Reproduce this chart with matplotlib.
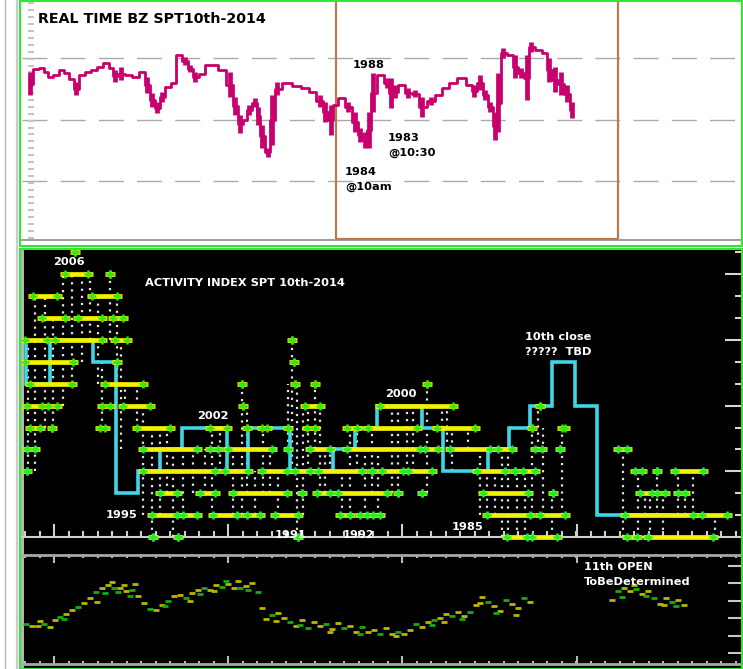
import numpy as np
import matplotlib
matplotlib.use('Agg')
import matplotlib.pyplot as plt
from matplotlib.patches import Rectangle

W, H = 743, 669

# ---- top panel: real time BZ (time in screen slots, price in ticks above panel floor)
bz_t = [30, 36, 42, 46, 50, 56, 61, 66, 71, 76, 82, 88, 94, 100, 106, 111, 115, 121,
        128, 136, 142, 147, 152, 157, 162, 168, 173, 178, 185, 190, 195, 202, 208, 214,
        221, 230, 235, 240, 245, 249, 255, 258, 262, 268, 272, 277, 286, 297, 305, 312,
        320, 325, 331, 335, 341, 348, 355, 360, 365, 369, 373, 380, 387, 391, 395, 401,
        408, 415, 422, 431, 438, 445, 452, 462, 470, 474, 480, 485, 490, 495, 498, 503,
        510, 515, 521, 527, 531, 538, 545, 549, 555, 561, 567, 572]
bz_hi = [168, 171, 172, 168, 163, 165, 170, 167, 161, 158, 165, 168, 170, 173, 177, 172, 170, 173,
         165, 163, 168, 163, 147, 138, 148, 153, 157, 185, 183, 175, 168, 166, 175, 175,
         170, 168, 143, 125, 120, 135, 142, 133, 115, 92, 145, 158, 157, 154, 152, 148,
         145, 138, 135, 135, 142, 138, 128, 112, 108, 128, 167, 165, 162, 162, 155, 155,
         152, 150, 143, 143, 145, 152, 157, 162, 155, 155, 165, 150, 138, 128, 167, 192,
         185, 185, 172, 185, 198, 190, 187, 182, 173, 168, 155, 138]
bz_lo = [145, 171, 172, 168, 163, 165, 170, 167, 161, 145, 165, 168, 170, 173, 177, 172, 158, 160,
         165, 163, 168, 147, 133, 127, 138, 153, 157, 185, 175, 168, 158, 166, 175, 175,
         170, 143, 125, 107, 120, 125, 133, 115, 92, 83, 95, 145, 157, 154, 152, 148,
         133, 118, 105, 135, 142, 128, 108, 98, 92, 92, 128, 165, 152, 132, 142, 155,
         142, 143, 123, 135, 145, 152, 157, 162, 155, 143, 150, 140, 128, 100, 108, 182,
         185, 162, 162, 140, 188, 190, 187, 158, 148, 145, 138, 122]
bz_grid = [182, 120, 59]
box_left, box_right = 336, 618

# ---- activity index: cyan step line (levels per period)
step_edges = [24, 26, 50, 93, 116, 138, 160, 182, 227, 248, 290, 333, 355, 377,
              422, 443, 488, 509, 530, 552, 575, 597, 690]
step_level = [9, 7, 9, 8, 2, 3, 4, 5, 3, 5, 3, 4, 5, 6, 5, 3, 4, 5, 6, 8, 6, 1]

# yellow/green prints: level, start, end
seg_level = [13, 12, 12, 11, 11, 10, 10, 10, 9, 9, 9, 9, 8, 8, 8,
             7, 7, 7, 7, 7, 7,
             6, 6, 6, 6, 6, 6, 6, 6,
             5, 5, 5, 5, 5, 5, 5, 5, 5, 5, 5, 5, 5, 5,
             4, 4, 4, 4, 4, 4, 4, 4, 4, 4, 4, 4, 4,
             3, 3, 3, 3, 3, 3, 3, 3, 3, 3, 3, 3, 3, 3, 3,
             2, 2, 2, 2, 2, 2, 2, 2, 2, 2, 2, 2, 2,
             1, 1, 1, 1, 1, 1, 1, 1, 1, 1, 1, 1,
             0, 0, 0, 0, 0, 0, 0]
seg_start = [75, 65, 110, 33, 92, 42, 78, 113, 25, 55, 115, 292, 25, 117, 294,
             30, 105, 242, 295, 315, 427,
             27, 48, 102, 123, 243, 305, 380, 540,
             30, 52, 100, 137, 210, 247, 262, 288, 307, 347, 368, 437, 532, 562,
             27, 143, 210, 228, 288, 310, 347, 425, 450, 498, 535, 560, 618,
             27, 143, 225, 262, 295, 318, 372, 382, 408, 477, 515, 523, 635, 657, 675,
             160, 200, 233, 302, 317, 338, 398, 422, 483, 553, 640, 657, 678,
             152, 183, 213, 247, 275, 340, 360, 373, 487, 540, 625, 702,
             153, 178, 298, 507, 532, 627, 648]
seg_end = [75, 88, 110, 57, 117, 65, 102, 123, 47, 102, 127, 292, 73, 117, 294,
           72, 143, 242, 295, 315, 427,
           42, 57, 110, 150, 243, 320, 453, 540,
           40, 52, 105, 170, 227, 247, 267, 288, 315, 357, 417, 475, 532, 565,
           35, 197, 218, 272, 288, 330, 420, 438, 490, 512, 542, 560, 627,
           27, 215, 248, 287, 310, 362, 372, 403, 432, 505, 515, 535, 642, 657, 703,
           177, 215, 287, 302, 330, 387, 398, 422, 528, 553, 652, 665, 685,
           177, 197, 237, 260, 298, 350, 367, 380, 530, 565, 693, 727,
           153, 178, 298, 527, 557, 637, 713]

# white dotted trade columns: x, low level, high level
col_x = [28, 35, 45, 53, 63, 72, 82, 90, 98, 102, 110, 117, 121, 125, 137, 143, 152, 160,
         167, 173, 183, 193, 205, 212, 220, 233, 242, 247, 255, 263, 270, 278, 288, 292,
         297, 303, 308, 315, 320, 325, 330, 342, 350, 357, 365, 372, 378, 392, 398, 407,
         413, 427, 442, 447, 452, 468, 480, 487, 495, 502, 508, 517, 525, 532, 538, 543,
         552, 562, 623, 638, 645, 650, 657, 663, 678, 685, 693, 715]
col_lo = [3, 3, 5, 5, 6, 7, 8, 9, 7, 5, 9, 7, 4, 6, 5, 1, 0, 1,
          2, 0, 1, 2, 2, 1, 3, 1, 1, 2, 1, 2, 2, 1, 4, 3,
          0, 1, 3, 4, 2, 2, 3, 1, 1, 3, 1, 2, 1, 2, 2, 3,
          3, 2, 5, 4, 3, 4, 1, 1, 1, 0, 0, 0, 0, 1, 4, 1,
          0, 1, 0, 0, 1, 0, 1, 0, 1, 1, 1, 0]
col_hi = [9, 11, 11, 10, 12, 12, 12, 12, 11, 8, 12, 11, 9, 7, 7, 6, 5, 5,
          5, 4, 4, 4, 4, 5, 5, 4, 7, 6, 3, 5, 4, 3, 7, 9,
          7, 6, 6, 7, 6, 4, 4, 3, 5, 5, 4, 5, 4, 6, 6, 6,
          6, 7, 6, 6, 5, 5, 4, 3, 3, 4, 4, 3, 3, 5, 6, 5,
          2, 5, 4, 3, 2, 2, 3, 2, 3, 2, 3, 1]

# ---- lower oscillator strip
osc_x = [26, 32, 38, 44, 50, 55, 60, 66, 72, 78, 84, 90, 96, 102, 108, 114, 120, 126,
         132, 138, 144, 150, 156, 162, 168, 174, 180, 186, 192, 198, 204, 210, 216, 222,
         228, 234, 240, 246, 252, 258, 262, 266, 272, 278, 284, 290, 296, 302, 308, 314,
         320, 326, 332, 338, 344, 350, 356, 362, 368, 374, 380, 386, 392, 398, 404, 410,
         416, 422, 428, 434, 440, 446, 452, 458, 464, 470, 476, 482, 488, 494, 500, 506,
         512, 518, 524, 530, 612, 618, 624, 630, 636, 642, 648, 654, 660, 666, 672, 678, 684]
osc_v = [39, 37, 37, 39, 36, 43, 46, 49, 53, 56, 60, 65, 71, 75, 78, 75, 75, 72,
         73, 67, 60, 54, 53, 58, 62, 67, 68, 65, 70, 73, 75, 73, 78, 76,
         79, 75, 75, 77, 80, 71, 55, 44, 48, 50, 45, 41, 37, 43, 35, 41,
         37, 39, 34, 40, 35, 37, 31, 36, 31, 33, 29, 35, 29, 31, 29, 33,
         39, 36, 41, 43, 45, 49, 47, 51, 47, 51, 58, 66, 61, 57, 52, 63,
         59, 55, 65, 61, 63, 72, 75, 72, 74, 69, 72, 65, 59, 65, 61, 63, 58]
osc_x2 = [40, 64, 97, 105, 112, 118, 124, 130, 135, 165, 190, 200, 214, 226, 238, 248,
          276, 300, 330, 360, 396, 432, 444, 462, 480, 496, 516, 622, 634, 646, 664, 676]
osc_v2 = [42, 44, 61, 70, 81, 71, 78, 67, 79, 57, 62, 69, 72, 82, 82, 73,
          42, 38, 31, 29, 27, 38, 41, 44, 60, 50, 48, 66, 78, 67, 58, 57]

tick_major = [54, 228, 402, 577]

MAG = '#c8006e'
CYAN = '#3fd6e6'
YEL = '#f2f200'
GRN = '#22ee22'


def px_axes(x0, y0, x1, y1, **kw):
    return fig.add_axes([x0 / W, 1 - y1 / H, (x1 - x0) / W, (y1 - y0) / H], **kw)


fig = plt.figure(figsize=(W / 100, H / 100), dpi=100, facecolor='white')

# ---------------- top panel
ax = px_axes(22, 2, 740, 240)
ax.set_xlim(22, 740)
ax.set_ylim(0, 238)
for s in ['top', 'right']:
    ax.spines[s].set_visible(False)
ax.spines['bottom'].set_color('#8c8c8c')
ax.spines['bottom'].set_linewidth(1.2)
ax.spines['left'].set_position(('axes', 0.008))
ax.spines['left'].set_visible(False)
ax.set_xticks([])
ax.set_yticks(np.arange(2, 238, 6.9))
ax.tick_params(axis='y', direction='in', length=4.5, width=1.5, color='#c4c4c4', labelleft=False)
for g in bz_grid:
    ax.axhline(g, color='#aaaaaa', lw=1.0, dashes=(18, 9.5), zorder=1)
ax.vlines([box_left, box_right], 1, 238, color='#b87a50', lw=1.6, zorder=3)
ax.hlines(1, box_left, box_right, color='#b87a50', lw=1.6, zorder=3)
mid = [(h + l) / 2 for h, l in zip(bz_hi, bz_lo)]
ax.plot(bz_t, mid, color=MAG, lw=2.0, zorder=4, drawstyle='steps-mid')
ax.vlines(bz_t, bz_lo, bz_hi, color=MAG, lw=3.4, zorder=4)

# ---------------- lower panel background
bg = px_axes(22, 249, 742, 669)
bg.set_facecolor('black')
bg.set_xticks([])
bg.set_yticks([])
for s in ['top', 'right', 'bottom']:
    bg.spines[s].set_visible(False)
bg.spines['left'].set_color('#b4b4b4')
bg.spines['left'].set_linewidth(2.2)

# ---------------- activity index panel
ai = px_axes(22, 250, 742, 548)
ai.patch.set_alpha(0)
ai.set_xlim(22, 742)
ai.set_ylim(-0.502, 13.105)
for s in ['top', 'left', 'right']:
    ai.spines[s].set_visible(False)
ai.spines['bottom'].set_position(('data', 0))
ai.spines['bottom'].set_color('#cfcfcf')
ai.spines['bottom'].set_linewidth(1.5)
ai.set_xticks(tick_major)
ai.set_xticks(np.arange(25, 742, 14.5), minor=True)
ai.tick_params(axis='x', which='major', direction='in', length=9.5, width=1.5, color='#cfcfcf',
               labelbottom=False)
ai.tick_params(axis='x', which='minor', direction='in', length=4.3, width=1.5, color='#cfcfcf')
ai.yaxis.set_ticks_position('right')
ai.set_yticks([3, 6, 9, 12])
ai.set_yticks([1, 2, 4, 5, 7, 8, 10, 11, 13], minor=True)
ai.tick_params(axis='y', which='major', direction='in', length=12, width=1.5, color='#d4d4d4',
               labelright=False)
ai.tick_params(axis='y', which='minor', direction='in', length=5, width=1.5, color='#d4d4d4')

ai.vlines(col_x, col_lo, col_hi, colors='#e4e4e4', lw=1.6, linestyles=(0, (1, 2.2)), zorder=2)
ai.stairs(step_level, step_edges, baseline=None, color=CYAN, lw=2.6, zorder=3)
s0 = np.array(seg_start) - 5
s1 = np.array(seg_end) + 5
ai.hlines(seg_level, s0, s1, color=YEL, lw=3.4, zorder=4)
ai.plot(seg_start, seg_level, '+', color=GRN, ms=5.5, mew=1.8, zorder=5)
ai.plot(seg_end, seg_level, '+', color=GRN, ms=5.5, mew=1.8, zorder=5)

# ---------------- oscillator strip
osc = px_axes(22, 555, 742, 664)
osc.patch.set_alpha(0)
osc.set_xlim(22, 742)
osc.set_ylim(-1, 108)
for s in ['left', 'right']:
    osc.spines[s].set_visible(False)
for s in ['top', 'bottom']:
    osc.spines[s].set_color('#a8a8a8')
    osc.spines[s].set_linewidth(2.0)
osc.set_xticks(tick_major)
osc.set_xticks(np.arange(25, 742, 14.5), minor=True)
osc.tick_params(axis='x', which='both', top=True, bottom=True, direction='in', width=1.5,
                color='#b8b8b8', labelbottom=False)
osc.tick_params(axis='x', which='major', length=6)
osc.tick_params(axis='x', which='minor', length=2.5)
osc.yaxis.set_ticks_position('right')
osc.set_yticks([10, 27.5, 45, 62.5, 80, 97.5])
osc.tick_params(axis='y', direction='in', length=10, width=1.5, color='#c8c8c8', labelright=False)
cols = ['#b8b800' if i % 3 else '#10b010' for i in range(len(osc_x))]
osc.scatter(osc_x, osc_v, marker='_', s=22, linewidths=2.0, c=cols, zorder=3)
cols2 = ['#10b010' if i % 2 else '#b8b800' for i in range(len(osc_x2))]
osc.scatter(osc_x2, osc_v2, marker='_', s=22, linewidths=2.0, c=cols2, zorder=3)

# ---------------- overlay: frames and notes
ov = px_axes(0, 0, W, H)
ov.set_xlim(0, W)
ov.set_ylim(H, 0)
ov.axis('off')
ov.patch.set_alpha(0)
ov.add_patch(Rectangle((20, 0.8), 721.5, 245, fill=False, ec='#2fe82f', lw=1.5))
ov.add_patch(Rectangle((20, 248.5), 721.5, 420, fill=False, ec='#2fe82f', lw=1.5))
ov.plot([5, 5], [0, H], color='#b8b8b8', lw=1.0)
ov.plot([16.5, 16.5], [0, H], color='#cccccc', lw=1.6)

bold = dict(fontfamily='DejaVu Sans', fontweight='bold', va='center', ha='left')
ov.text(38, 19, 'REAL TIME BZ SPT10th-2014', fontsize=10.3, color='black', **bold)
ov.text(353, 65, '1988', fontsize=8.2, color='black', **bold)
ov.text(388, 138, '1983', fontsize=8.2, color='black', **bold)
ov.text(388, 153, '@10:30', fontsize=8.2, color='black', **bold)
ov.text(345, 172, '1984', fontsize=8.2, color='black', **bold)
ov.text(345, 187, '@10am', fontsize=8.2, color='black', **bold)

white_notes = [
    (53, 262, '2006'), (145, 283, 'ACTIVITY INDEX SPT 10th-2014'), (197, 416, '2002'),
    (106, 515, '1995'), (275, 535, '1991'), (343, 535, '1992'), (385, 394, '2000'),
    (452, 527, '1985'), (525, 337, '10th close'), (525, 352, '?????  TBD'),
    (584, 567, '11th OPEN'), (584, 582, 'ToBeDetermined'),
]
for x, y, s in white_notes:
    ov.text(x, y, s, fontsize=8.2, color='white', **bold)

fig.savefig('out.png', dpi=100, facecolor='white')
